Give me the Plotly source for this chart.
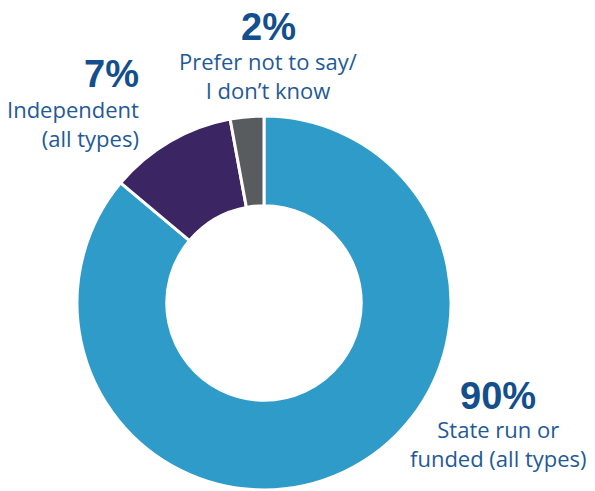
import plotly.graph_objects as go

# Data
categories = ["State run or funded (all types)", "Independent (all types)", "Prefer not to say/I don't know"]
slice_values = [86.1, 11.0, 2.9]          # visual slice sizes
pct_labels = ["90%", "7%", "2%"]
label_lines = [["State run or", "funded (all types)"],
               ["Independent", "(all types)"],
               ["Prefer not to say/", "I don\u2019t know"]]
colors = ["#2E9BC9", "#3C2563", "#585C5E"]

W, H = 595, 491
cx, cy, R = 264, 303, 187

def px(x):
    return x / W

def py(y):
    return 1 - y / H

fig = go.Figure(go.Pie(
    labels=categories,
    values=slice_values,
    hole=0.52,
    sort=False,
    direction="clockwise",
    rotation=0,
    marker=dict(colors=colors, line=dict(color="white", width=3)),
    textinfo="none",
    hoverinfo="label+percent",
    showlegend=False,
    domain=dict(x=[px(cx - R), px(cx + R)], y=[py(cy + R), py(cy - R)]),
))

pct_color = "#134F8C"
lab_color = "#1F5A96"
pct_font = dict(family="Liberation Sans, Arial, sans-serif", size=38, color=pct_color)
lab_font = dict(family="Open Sans, sans-serif", size=22, color=lab_color)

# (x, y_center_pct, y_center_label, xanchor)
placements = [
    (498, 395.5, 443.5, "center"),
    (141, 73.5, 123.5, "right"),
    (268, 27, 75.5, "center"),
]

annotations = []
for i, (x, yp, yl, xa) in enumerate(placements):
    annotations.append(dict(
        text="<b>" + pct_labels[i] + "</b>", x=px(x), y=py(yp), xref="paper", yref="paper",
        xanchor=xa, yanchor="middle", align=xa if xa != "center" else "center",
        showarrow=False, font=pct_font))
    annotations.append(dict(
        text="<br>".join(label_lines[i]), x=px(x), y=py(yl), xref="paper", yref="paper",
        xanchor=xa, yanchor="middle", align=xa if xa != "center" else "center",
        showarrow=False, font=lab_font))

fig.update_layout(
    width=W, height=H,
    margin=dict(l=0, r=0, t=0, b=0),
    paper_bgcolor="white", plot_bgcolor="white",
    annotations=annotations,
)

fig.write_html("out.html")
